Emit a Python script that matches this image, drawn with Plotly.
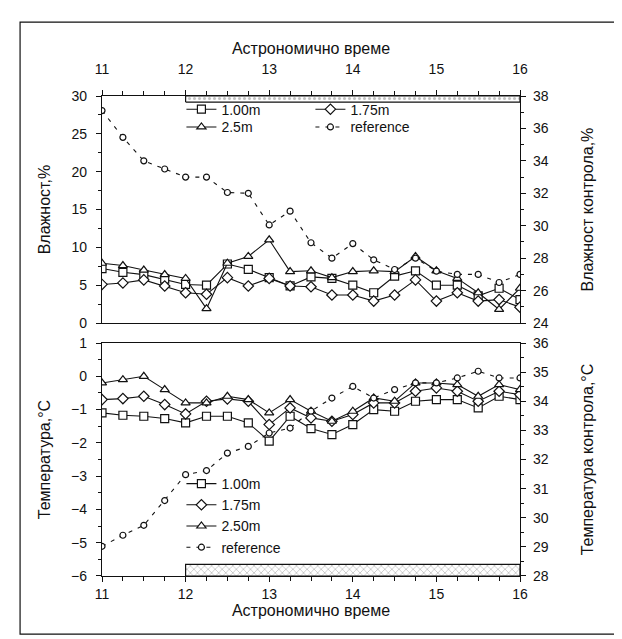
import plotly.graph_objects as go

# ---------------- data ----------------
hours = [11.0, 11.25, 11.5, 11.75, 12.0, 12.25, 12.5, 12.75, 13.0, 13.25, 13.5,
         13.75, 14.0, 14.25, 14.5, 14.75, 15.0, 15.25, 15.5, 15.75, 16.0]

# humidity, %
hum_100 = [7.2, 6.7, 6.4, 5.8, 5.1, 5.0, 7.8, 7.1, 6.0, 4.9, 6.1, 5.9, 5.0, 4.0, 6.2, 6.9, 5.0, 5.0, 3.6, 4.6, 3.1]
hum_175 = [5.1, 5.3, 5.7, 4.9, 4.0, 3.8, 6.0, 4.9, 5.9, 4.9, 4.8, 3.7, 3.7, 2.9, 3.7, 5.7, 2.9, 4.0, 2.9, 3.1, 2.1]
hum_250 = [7.9, 7.6, 7.0, 6.4, 5.9, 1.9, 7.9, 8.8, 11.0, 6.8, 6.9, 6.0, 6.8, 6.9, 6.8, 8.8, 6.9, 5.9, 4.0, 1.8, 4.6]
hum_ref = [37.1, 35.45, 34.0, 33.5, 33.0, 33.0, 32.05, 32.0, 30.05, 30.9, 28.95, 28.0, 28.9, 27.9, 27.3, 28.0, 27.2, 27.0, 27.0, 26.5, 27.0]

# temperature, °C
tmp_100 = [-1.1, -1.17, -1.2, -1.27, -1.4, -1.2, -1.2, -1.4, -1.95, -1.2, -1.57, -1.75, -1.45, -1.0, -1.05, -0.75, -0.7, -0.7, -0.95, -0.6, -0.7]
tmp_175 = [-0.7, -0.67, -0.6, -0.85, -1.13, -0.75, -0.68, -0.75, -1.45, -0.95, -1.25, -1.35, -1.15, -0.8, -0.8, -0.45, -0.35, -0.45, -0.75, -0.45, -0.55]
tmp_250 = [-0.2, -0.1, 0.0, -0.4, -0.8, -0.8, -0.6, -0.7, -1.1, -0.7, -1.05, -1.35, -1.05, -0.65, -0.75, -0.2, -0.2, -0.25, -0.6, -0.25, -0.4]
tmp_ref = [29.02, 29.4, 29.74, 30.59, 31.48, 31.62, 32.22, 32.45, 32.91, 33.08, 33.66, 34.11, 34.51, 34.11, 34.4, 34.63, 34.63, 34.8, 35.03, 34.8, 34.8]

top_names = ["1.00m", "1.75m", "2.5m", "reference"]
bot_names = ["1.00m", "1.75m", "2.50m", "reference"]

# shaded (hatched) time band
band_x = [12.0, 16.0]
hum_band = [29.2, 30.0]
tmp_band = [-6.0, -5.65]

x_ticks = [11, 12, 13, 14, 15, 16]
x_title = "Астрономично време"

FONT = "Liberation Sans, Arial, sans-serif"
BLACK = "#111111"

fig = go.Figure()

def band(x0x1, y0y1, xa, ya, shape):
    xs = [x0x1[0], x0x1[1], x0x1[1], x0x1[0], x0x1[0]]
    ys = [y0y1[0], y0y1[0], y0y1[1], y0y1[1], y0y1[0]]
    fig.add_trace(go.Scatter(
        x=xs, y=ys, xaxis=xa, yaxis=ya, mode="lines", fill="toself",
        fillcolor="rgba(255,255,255,0)",
        fillpattern=dict(shape=shape, size=5, solidity=0.3, fgcolor="#888888", bgcolor="white"),
        line=dict(color=BLACK, width=1.2), showlegend=False, hoverinfo="skip"))

band(band_x, hum_band, "x", "y", ".")
band(band_x, tmp_band, "x2", "y3", "x")

def series(y, name, symbol, xa, ya, legend, ref=False):
    fig.add_trace(go.Scatter(
        x=hours, y=y, name=name, xaxis=xa, yaxis=ya, mode="lines+markers",
        legend=legend,
        line=dict(color=BLACK, width=1.1, dash="4px,6px" if ref else "solid"),
        marker=dict(symbol=symbol, size=6 if ref else 8, color="white",
                    line=dict(color=BLACK, width=1.2))))

# top panel (legend rows: 1.00m / 1.75m , 2.5m / reference)
series(hum_100, top_names[0], "square", "x", "y", "legend")
series(hum_175, top_names[1], "diamond", "x", "y", "legend")
series(hum_250, top_names[2], "triangle-up", "x", "y", "legend3")
series(hum_ref, top_names[3], "circle", "x", "y2", "legend3", ref=True)

# bottom panel
series(tmp_100, bot_names[0], "square", "x2", "y3", "legend2")
series(tmp_175, bot_names[1], "diamond", "x2", "y3", "legend2")
series(tmp_250, bot_names[2], "triangle-up", "x2", "y3", "legend2")
series(tmp_ref, bot_names[3], "circle", "x2", "y4", "legend2", ref=True)

axis_common = dict(showline=True, linecolor=BLACK, linewidth=1.3, ticks="outside",
                   ticklen=5, tickcolor=BLACK, showgrid=False, zeroline=False,
                   tickfont=dict(family=FONT, size=14, color=BLACK))
title_font = dict(family=FONT, size=16, color=BLACK)
legend_font = dict(family=FONT, size=14, color=BLACK)

top_dom = [0.527, 1.0]
bot_dom = [0.0, 0.4854]

fig.update_layout(
    width=622, height=639,
    margin=dict(l=94, r=110, t=88, b=71),
    paper_bgcolor="white", plot_bgcolor="white",
    font=dict(family=FONT, size=14, color=BLACK),
    xaxis=dict(axis_common, domain=[0, 1], anchor="y", side="top", range=[11, 16],
               tickvals=x_ticks, mirror=True, ticklabelstandoff=10,
               minor=dict(dtick=0.25, ticks="outside", ticklen=4, tickcolor=BLACK),
               title=dict(text=x_title, font=title_font, standoff=2)),
    yaxis=dict(axis_common, domain=top_dom, range=[0, 30], dtick=5, ticklabelstandoff=6,
               minor=dict(dtick=2.5, ticks="outside", ticklen=3, tickcolor=BLACK),
               title=dict(text="Влажност,%", font=title_font, standoff=16)),
    yaxis2=dict(axis_common, overlaying="y", side="right", anchor="x", range=[24, 38], dtick=2,
                ticklabelstandoff=4,
                minor=dict(dtick=1, ticks="outside", ticklen=3, tickcolor=BLACK),
                title=dict(text="Влажност контрола,%", font=title_font, standoff=34)),
    xaxis2=dict(axis_common, domain=[0, 1], anchor="y3", side="bottom", range=[11, 16],
                tickvals=x_ticks, mirror=True,
                minor=dict(dtick=0.25, ticks="outside", ticklen=4, tickcolor=BLACK),
                title=dict(text=x_title, font=title_font, standoff=0)),
    yaxis3=dict(axis_common, domain=bot_dom, anchor="x2", range=[-6, 1], dtick=1, ticklabelstandoff=6,
                minor=dict(dtick=0.5, ticks="outside", ticklen=3, tickcolor=BLACK),
                title=dict(text="Температура,°C", font=title_font, standoff=16)),
    yaxis4=dict(axis_common, overlaying="y3", side="right", anchor="x2", range=[28, 36], dtick=1,
                ticklabelstandoff=4,
                minor=dict(dtick=0.5, ticks="outside", ticklen=3, tickcolor=BLACK),
                title=dict(text="Температура контрола,°C", font=title_font, standoff=34)),
    legend=dict(orientation="h", x=0.19, y=1.005, xanchor="left", yanchor="top",
                entrywidth=84, entrywidthmode="pixels", tracegroupgap=0,
                bgcolor="rgba(0,0,0,0)", font=legend_font, itemwidth=30),
    legend3=dict(orientation="h", x=0.19, y=0.968, xanchor="left", yanchor="top",
                 entrywidth=84, entrywidthmode="pixels", tracegroupgap=0,
                 bgcolor="rgba(0,0,0,0)", font=legend_font, itemwidth=30),
    legend2=dict(orientation="v", x=0.19, y=0.225, xanchor="left", yanchor="top",
                 bgcolor="rgba(0,0,0,0)", font=legend_font, tracegroupgap=0, itemwidth=30),
    shapes=[dict(type="rect", xref="paper", yref="paper", x0=-0.196, x1=1.237,
                 y0=-0.121, y1=1.154, line=dict(color=BLACK, width=1.2))],
)

fig.write_html("out.html")
